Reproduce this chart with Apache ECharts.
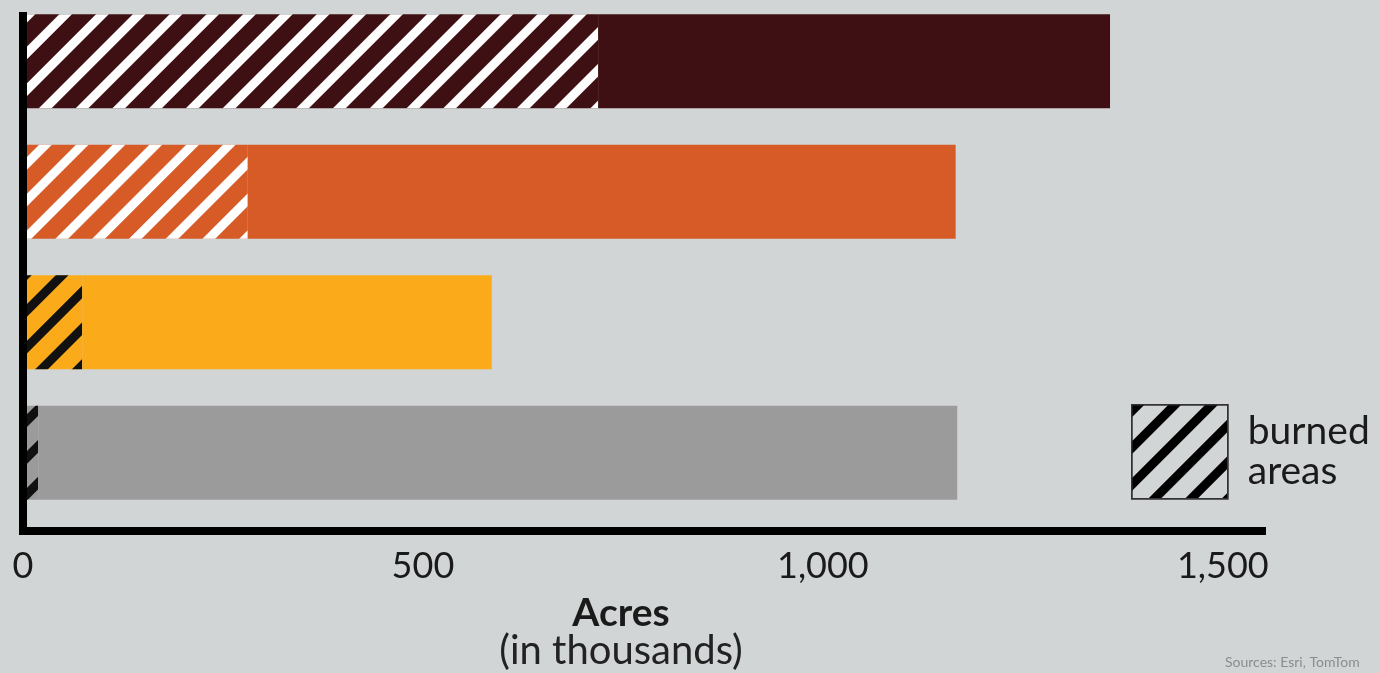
<!DOCTYPE html>
<html>
<head>
<meta charset="utf-8">
<script src="https://cdn.jsdelivr.net/npm/echarts@6/dist/echarts.min.js"></script>
<style>
html, body { margin: 0; padding: 0; background: #d2d5d6; }
#chart { width: 1379px; height: 673px; }
</style>
</head>
<body>
<div id="chart"></div>
<script>
// data (acres, in thousands)
var categories = ['Bar 1', 'Bar 2', 'Bar 3', 'Bar 4'];
var totalAcres = [1359, 1166, 586, 1168];
var burnedAcres = [719, 281, 74, 19];
var barColors = ['#3e1013', '#d65b27', '#fbab1a', '#9b9b9b'];
var stripeColors = ['#ffffff', '#ffffff', '#111111', '#111111'];
var xTicks = [0, 500, 1000, 1500];

var bg = '#d2d5d6';
var font = 'Lato';

//斜线填充
function stripes (c) {
	return { symbol: 'rect', symbolSize: 1, color: c, dashArrayX: [1, 0], dashArrayY: [9, 17], rotation: -Math.PI / 4 };
}

var burnedData = burnedAcres.map(function (v, i) {
	return { value: v, itemStyle: { color: barColors[i], decal: stripes(stripeColors[i]) } };
});
var restData = totalAcres.map(function (v, i) {
	return { value: v - burnedAcres[i], itemStyle: { color: barColors[i] } };
});

var chart = echarts.init(document.getElementById('chart'));
var option = {
	backgroundColor: bg,
	animation: false,
	grid: [
		{ left: 23, right: 117, top: -4, height: 522, outerBoundsMode: 'none' },	// bars
		{ left: 23, right: 117, top: 16, height: 515 }	// axis frame
	],
	xAxis: [
		{ gridIndex: 0, type: 'value', min: 0, max: 1549, show: false },
		{
			gridIndex: 1, type: 'value', min: 0, max: 1549, interval: 500, z: 5,
			axisLine: { show: true, lineStyle: { color: '#000', width: 8, cap: 'square' } },
			axisTick: { show: false },
			splitLine: { show: false },
			axisLabel: {
				margin: 17, color: '#1a1a1a', fontFamily: font, fontSize: 36, showMaxLabel: false,
				formatter: function (v) { return xTicks.indexOf(v) >= 0 ? echarts.format.addCommas(v) : ''; }
			}
		}
	],
	yAxis: [
		{ gridIndex: 0, type: 'category', data: categories, inverse: true, show: false },
		{
			gridIndex: 1, type: 'value', z: 5,
			axisLine: { show: true, lineStyle: { color: '#000', width: 8, cap: 'square' } },
			axisTick: { show: false }, axisLabel: { show: false }, splitLine: { show: false }
		}
	],
	legend: {
		left: 1126, top: 399, orient: 'vertical',
		itemWidth: 96, itemHeight: 94, selectedMode: false,
		data: [{
			name: 'burned areas',
			icon: 'rect',
			itemStyle: { color: bg, borderColor: '#333', borderWidth: 1.5, decal: stripes('#000000') }
		}],
		formatter: function () { return 'burned\nareas'; },
		textStyle: { fontFamily: font, fontSize: 39, color: '#1a1a1a', lineHeight: 40, padding: [-16, 0, 0, 15] }
	},
	title: [
		{
			text: 'Acres', left: 616, top: 589, textAlign: 'center',
			textStyle: { fontFamily: font, fontSize: 39, fontWeight: 'bold', color: '#1a1a1a' }
		},
		{
			text: '(in thousands)', left: 616, top: 626, textAlign: 'center',
			textStyle: { fontFamily: font, fontSize: 40, fontWeight: 'normal', color: '#222' }
		},
		{
			text: 'Sources: Esri, TomTom', left: 1220, top: 650,
			textStyle: { fontFamily: font, fontSize: 14, fontWeight: 'normal', color: '#8c8c8c' }
		}
	],
	series: [
		{
			name: 'burned areas', type: 'bar', stack: 'total', barWidth: 94,
			xAxisIndex: 0, yAxisIndex: 0, data: burnedData
		},
		{
			name: 'rest', type: 'bar', stack: 'total', barWidth: 94,
			xAxisIndex: 0, yAxisIndex: 0, data: restData
		}
	]
};
chart.setOption(option);
</script>
</body>
</html>
